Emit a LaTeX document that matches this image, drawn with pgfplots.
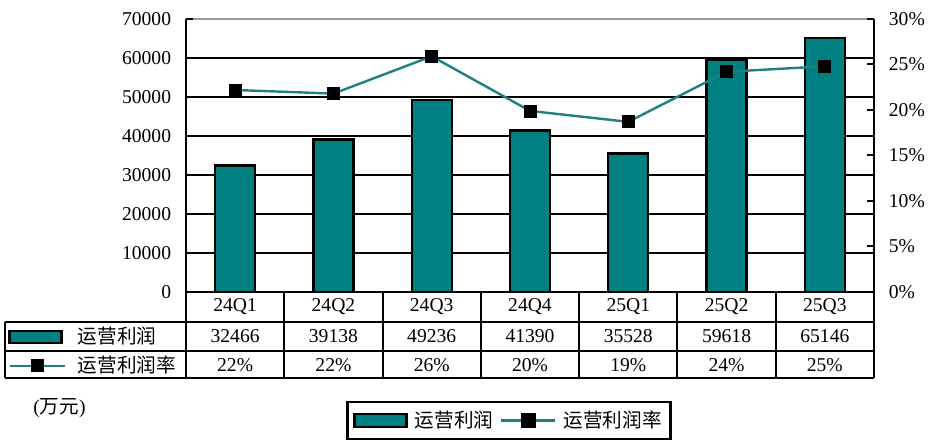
\documentclass[border=0pt]{standalone}
\usepackage{pgfplots}
\pgfplotsset{compat=1.18}
\usepackage{fontspec}
\setmainfont{Liberation Serif}
\newfontfamily\cjk{Noto Sans CJK SC}
\definecolor{barteal}{RGB}{0,128,128}
\definecolor{lineteal}{RGB}{32,128,128}
\begin{document}
\fontsize{9.8}{11.5}\selectfont
\begin{tikzpicture}[font=\fontsize{9.8}{11.5}\selectfont]
\useasboundingbox (0,0) rectangle (464pt,224pt);
% ---- primary axis: bars
\begin{axis}[
  at={(93pt,78pt)}, anchor=south west, scale only axis,
  width=344pt, height=136.5pt,
  xmin=-0.5, xmax=6.5, ymin=0, ymax=70000,
  axis x line=none, axis y line*=left,
  axis line style={black, line width=1pt},
  ytick={0,10000,...,60000},
  extra y ticks={70000},
  extra y tick style={grid style={gray!80, line width=1pt}},
  scaled y ticks=false,
  ymajorgrids, grid style={black, line width=1pt},
  tick align=inside, major tick length=3.5pt,
  ytick style={black, line width=1pt},
  yticklabel style={/pgf/number format/1000 sep={}, /pgf/number format/assume math mode=true, xshift=-4pt},
  ybar, bar width=20pt,
]
\addplot[fill=barteal, draw=black, line width=1.2pt] coordinates {
  (0,32466) (1,39138) (2,49236) (3,41390) (4,35528) (5,59618) (6,65146)};
\end{axis}
% ---- secondary axis: margin line + bottom legend
\begin{axis}[
  at={(93pt,78pt)}, anchor=south west, scale only axis,
  width=344pt, height=136.5pt,
  xmin=-0.5, xmax=6.5, ymin=0, ymax=30,
  axis x line=none, axis y line*=right,
  axis line style={black, line width=1pt},
  ytick={0,5,...,30},
  yticklabels={0\%,5\%,10\%,15\%,20\%,25\%,30\%},
  yticklabel style={xshift=4pt},
  tick align=inside, major tick length=3.5pt,
  ytick style={black, line width=1pt},
  legend columns=2,
  legend style={at={(0.4695,-0.4707)}, anchor=center, draw=black, line width=1.2pt,
    inner xsep=3pt, inner ysep=3pt,
    nodes={inner sep=1.5pt}, column sep=2pt},
]
\addlegendimage{legend image code/.code={\draw[fill=barteal, draw=black, line width=1.2pt] (0pt,-3.25pt) rectangle (26pt,3.25pt);}}
\addlegendentry{{\cjk 运营利润}}
\addplot[lineteal, line width=1.2pt, mark=square*, mark size=3pt,
  mark options={fill=black, draw=black, line width=0.4pt},
  legend image code/.code={\draw[lineteal, line width=1.2pt] (0pt,0pt) -- (27pt,0pt);
    \fill[black] (10.5pt,-3pt) rectangle (16.5pt,3pt);}]
  coordinates {(0,22.2) (1,21.8) (2,25.9) (3,19.9) (4,18.7) (5,24.2) (6,24.8)};
\addlegendentry{{\cjk 运营利润率}}
\end{axis}
% ---- key column of the data table (legend only)
\begin{axis}[
  at={(93pt,78pt)}, anchor=south west, scale only axis,
  width=344pt, height=136.5pt,
  xmin=0, xmax=1, ymin=0, ymax=1, hide axis,
  legend columns=1, legend cell align=left,
  legend style={at={(-0.2587,-0.1099)}, anchor=north west, draw=none, fill=none,
    inner xsep=0pt, inner ysep=0pt,
    nodes={inner sep=0pt, minimum height=14.5pt, anchor=west}, column sep=6pt},
]
\addlegendimage{legend image code/.code={\draw[fill=barteal, draw=black, line width=1.2pt] (0pt,-3pt) rectangle (26pt,3pt);}}
\addlegendentry{{\cjk 运营利润}}
\addlegendimage{legend image code/.code={\draw[lineteal, line width=1.2pt] (0pt,0pt) -- (27.5pt,0pt);
    \fill[black] (11pt,-3pt) rectangle (17pt,3pt);}}
\addlegendentry{{\cjk 运营利润率}}
\end{axis}
% ---- data table
\begin{scope}[x=0.5pt, y=-0.5pt, shift={(0,224pt)}]
\draw[black, line width=1pt] (186,292) -- (874,292);
\draw[black, line width=1pt] (5,322) -- (874,322);
\draw[black, line width=1pt] (5,351) -- (874,351);
\draw[black, line width=1pt] (5,378) -- (874,378);
\draw[black, line width=1pt] (5,322) -- (5,378);
\foreach \k in {0,...,7} {
  \draw[black, line width=1pt] ({186+98.2857*\k},292) -- ({186+98.2857*\k},378);
}
\foreach \c/\v/\r [count=\i from 0] in {24Q1/32466/22,24Q2/39138/22,24Q3/49236/26,24Q4/41390/20,25Q1/35528/19,25Q2/59618/24,25Q3/65146/25} {
  \node at ({186+98.2857*(\i+0.5)},307) {\c};
  \node at ({186+98.2857*(\i+0.5)},336.5) {\v};
  \node at ({186+98.2857*(\i+0.5)},365) {\r\%};
}
\node[anchor=west, inner sep=0pt] at (33,408) {({\cjk 万元})};
\end{scope}
\end{tikzpicture}
\end{document}
